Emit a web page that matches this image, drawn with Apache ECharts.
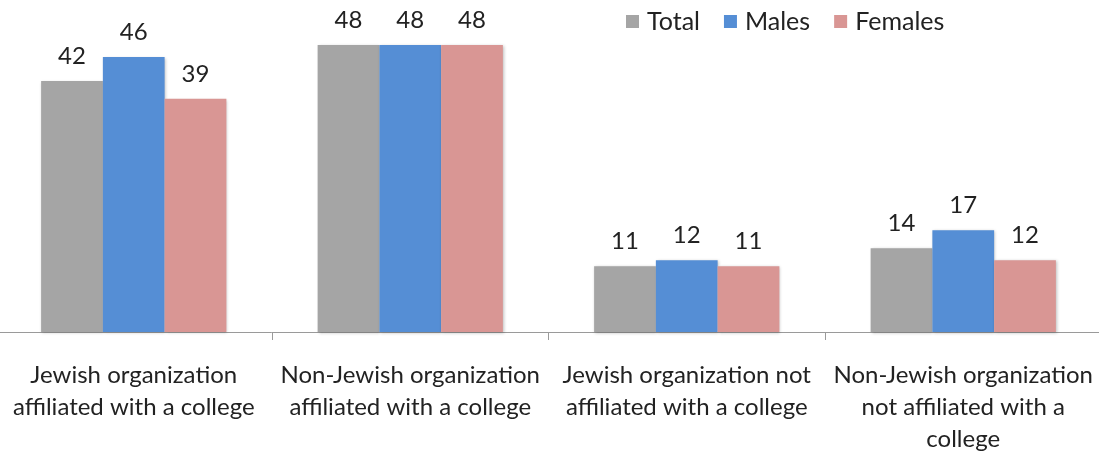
<!DOCTYPE html>
<html><head><meta charset="utf-8">
<script src="https://cdn.jsdelivr.net/npm/echarts@6/dist/echarts.min.js"></script>
<style>html,body{margin:0;padding:0;background:#fff;overflow:hidden}#c{width:1110px;height:453px;margin-left:-5px}</style>
</head><body><div id="c"></div>
<script>
const categories = ["Jewish organization\naffiliated with a college","Non-Jewish organization\naffiliated with a college","Jewish organization not\naffiliated with a college","Non-Jewish organization\nnot affiliated with a\ncollege"];
const seriesNames = ["Total","Males","Females"];
const total = [42,48,11,14];
const males = [46,48,12,17];
const females = [39,48,11,12];
const colors = ["#a5a5a5","#558ed5","#d99694"];
const font = "Lato, 'Open Sans', sans-serif";
const chart = echarts.init(document.getElementById('c'));
const mk = (name, data, color) => ({
  name, type:'bar', data, barGap:'0%', barCategoryGap:'33%',
  itemStyle:{color, shadowColor:'rgba(0,0,0,0.25)', shadowBlur:3, shadowOffsetX:1, shadowOffsetY:1},
  label:{show:true, position:'top', distance:13, color:'#222', fontSize:24, fontFamily:font},
  animation:false
});
chart.setOption({
  animation:false,
  textStyle:{fontFamily:font},
  legend:{left:631, top:9, padding:0, itemWidth:13, itemHeight:13, itemGap:24, icon:'rect',
    textStyle:{fontSize:25, color:'#222', fontFamily:font, padding:[0,0,0,3]}, data:seriesNames},
  grid:{left:0.5, right:3.5, top:45, bottom:121, containLabel:false, outerBoundsMode:'none'},
  xAxis:{type:'category', data:categories,
    axisLine:{lineStyle:{color:'#9a9a9a', width:1}},
    axisTick:{show:true, length:8, lineStyle:{color:'#9a9a9a'}},
    axisLabel:{interval:0, fontSize:24, lineHeight:32, color:'#222', margin:27, fontFamily:font}},
  yAxis:{type:'value', min:0, max:48, show:false, splitLine:{show:false}},
  series:[mk(seriesNames[0], total, colors[0]), mk(seriesNames[1], males, colors[1]), mk(seriesNames[2], females, colors[2])]
});
</script></body></html>
